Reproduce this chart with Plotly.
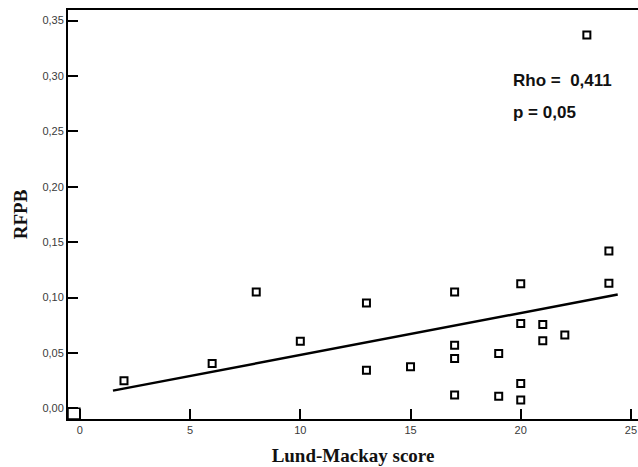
import plotly.graph_objects as go

# Data
lund_mackay = [2, 6, 8, 10, 13, 13, 15, 17, 17, 17, 17, 19, 19, 20, 20, 20, 20, 21, 21, 22, 23, 24, 24]
rfpb = [0.025, 0.0405, 0.105, 0.0606, 0.095, 0.0345, 0.0375, 0.105, 0.057, 0.045, 0.012,
        0.0495, 0.011, 0.1126, 0.0766, 0.0225, 0.0075, 0.0757, 0.061, 0.0663, 0.337, 0.142, 0.113]
fit_x = [1.5, 24.4]
fit_y = [0.016, 0.1027]
x_ticks = [0, 5, 10, 15, 20, 25]
y_ticks = [0.00, 0.05, 0.10, 0.15, 0.20, 0.25, 0.30, 0.35]
y_tick_labels = ["0,00", "0,05", "0,10", "0,15", "0,20", "0,25", "0,30", "0,35"]
stats_text = ["Rho =  0,411", "p = 0,05"]

x_range = [-0.54, 25.32]
y_range = [-0.0096, 0.3596]

fig = go.Figure()
fig.add_trace(go.Scatter(
    x=fit_x, y=fit_y, mode="lines",
    line=dict(color="black", width=2.5), showlegend=False, hoverinfo="skip"))
fig.add_trace(go.Scatter(
    x=lund_mackay, y=rfpb, mode="markers",
    marker=dict(symbol="square-open", size=7, color="black", line=dict(width=2)),
    showlegend=False))

# small origin box drawn by the original software
fig.add_shape(type="rect", xref="x", yref="y",
              x0=x_range[0], x1=0, y0=y_range[0], y1=0,
              line=dict(color="black", width=1.5))

fig.add_annotation(x=19.56, y=0.2958, xref="x", yref="y", text="<b>%s</b>" % stats_text[0],
                   showarrow=False, xanchor="left", yanchor="middle",
                   font=dict(family="Liberation Sans", size=17, color="#111"))
fig.add_annotation(x=19.56, y=0.267, xref="x", yref="y", text="<b>%s</b>" % stats_text[1],
                   showarrow=False, xanchor="left", yanchor="middle",
                   font=dict(family="Liberation Sans", size=17, color="#111"))

fig.update_layout(
    width=638, height=467,
    margin=dict(l=68, r=0, t=10, b=48),
    paper_bgcolor="white", plot_bgcolor="white",
    xaxis=dict(
        range=x_range, tickvals=x_ticks, ticks="inside", ticklen=10, tickwidth=2,
        tickcolor="black", showline=True, linecolor="black", linewidth=2, mirror=True,
        showgrid=False, zeroline=False, ticklabeloverflow="allow",
        tickfont=dict(family="Liberation Sans", size=11, color="#3a3a3a"),
        title=dict(text="<b>Lund-Mackay score</b>", standoff=13,
                   font=dict(family="Liberation Serif", size=19, color="#111"))),
    yaxis=dict(
        range=y_range, tickvals=y_ticks, ticktext=y_tick_labels, ticks="inside", ticklen=10,
        tickwidth=2, tickcolor="black", showline=True, linecolor="black", linewidth=2,
        mirror=False, showgrid=False, zeroline=False,
        tickfont=dict(family="Liberation Sans", size=11, color="#3a3a3a"),
        title=dict(text="<b>RFPB</b>", standoff=10,
                   font=dict(family="Liberation Serif", size=19, color="#111"))),
)

fig.write_html("out.html",
               config={"displayModeBar": False},
               post_script="document.body.style.margin='0';document.body.style.overflow='hidden';")
